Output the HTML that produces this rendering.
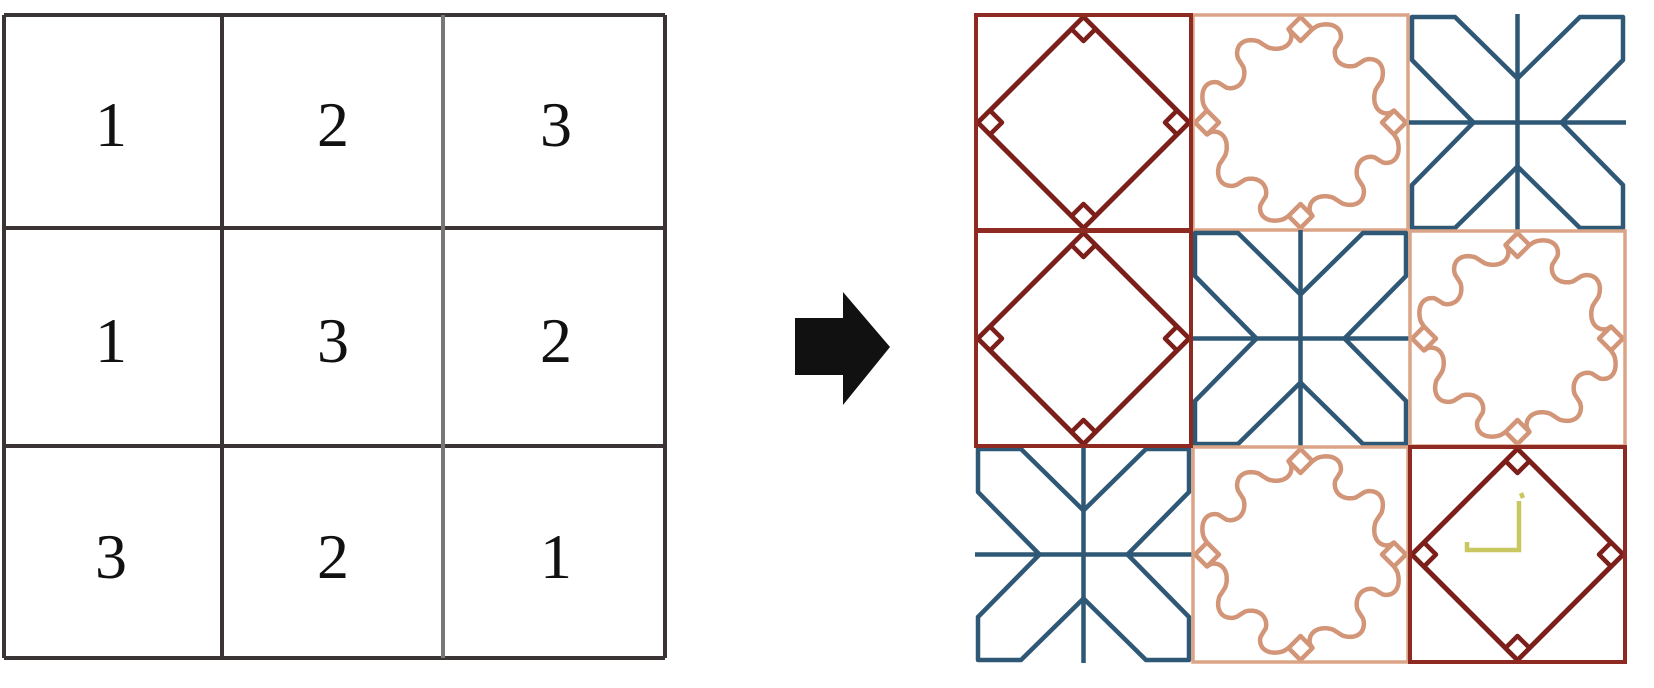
<!DOCTYPE html>
<html><head><meta charset="utf-8">
<style>
html,body{margin:0;padding:0;background:#fff;}
svg{display:block;}
</style></head>
<body>
<svg id="s" width="1654" height="688" viewBox="0 0 1654 688" xmlns="http://www.w3.org/2000/svg">
<rect width="1654" height="688" fill="#fff"/>
<g stroke="#3a3434" stroke-width="4" fill="none">
<line x1="4" y1="15" x2="665" y2="15"/>
<line x1="4" y1="228" x2="665" y2="228"/>
<line x1="4" y1="446" x2="665" y2="446"/>
<line x1="4" y1="658" x2="665" y2="658"/>
<line x1="4" y1="15" x2="4" y2="658"/>
<line x1="222" y1="15" x2="222" y2="658"/>
<line x1="443" y1="15" x2="443" y2="658" stroke="#777"/>
<line x1="665" y1="15" x2="665" y2="658"/>
</g>
<g font-family="'Liberation Serif',serif" font-size="64" fill="#111" text-anchor="middle">
<text x="111" y="146">1</text><text x="333" y="146">2</text><text x="556" y="146">3</text>
<text x="111" y="362">1</text><text x="333" y="362">3</text><text x="556" y="362">2</text>
<text x="111" y="578">3</text><text x="333" y="578">2</text><text x="556" y="578">1</text>
</g>
<path d="M795,318 L843,318 L843,292 L890,347 L843,405 L843,375 L795,375 Z" fill="#111"/>
<g id="tiles"></g>
</svg>
<script>
(function(){
var NS="http://www.w3.org/2000/svg";
var g=document.getElementById("tiles");
var xs=[975,1192,1409], ys=[14,230,446], S=217, c=S/2;
var layout=[["r","o","b"],["r","b","o"],["b","o","r"]];
function el(n,a,p){var e=document.createElementNS(NS,n);for(var k in a)e.setAttribute(k,a[k]);(p||g).appendChild(e);return e;}
function rings(p,col){
  var d=15,h=12;
  [[c,d],[S-d,c],[c,S-d],[d,c]].forEach(function(q){
    el("path",{d:"M"+q[0]+","+(q[1]-h)+" L"+(q[0]+h)+","+q[1]+" L"+q[0]+","+(q[1]+h)+" L"+(q[0]-h)+","+q[1]+" Z",fill:"#fff",stroke:col,"stroke-width":4.5,"stroke-linejoin":"round"},p);
  });
}
function red(p){
  var col="#7c1f1a";
  el("path",{d:"M"+c+",3 L"+(S-3)+","+c+" L"+c+","+(S-3)+" L3,"+c+" Z",fill:"none",stroke:col,"stroke-width":5},p);
  rings(p,col);
  el("rect",{x:1,y:1,width:S-2,height:S-2,fill:"none",stroke:"#8e2a22","stroke-width":4},p);
}
function orange(p){
  var col="#d29578";
  var d=15,h=12;
  var pts=[[c,d],[S-d,c],[c,S-d],[d,c]];
  var path="";
  for(var i=0;i<4;i++){
    var A=pts[i],B=pts[(i+1)%4];
    var ax=A[0]+Math.sign(B[0]-A[0])*h*(A[0]==c?1:0), ay=A[1]+Math.sign(B[1]-A[1])*h*(A[1]==c?1:0);
    var bx=B[0]+Math.sign(A[0]-B[0])*h*(B[0]==c?1:0), by=B[1]+Math.sign(A[1]-B[1])*h*(B[1]==c?1:0);
    var dx=bx-ax,dy=by-ay,L=Math.sqrt(dx*dx+dy*dy);
    var mx=(ax+bx)/2-c,my=(ay+by)/2-c;var nx=-dy/L,ny=dx/L;if(nx*mx+ny*my<0){nx=-nx;ny=-ny;}
    var N=100;
    for(var k=0;k<=N;k++){
      var t=k/N,s=Math.sin(2*Math.PI*2*t);
      var w=Math.sign(s)*Math.pow(Math.abs(s),0.5)*14+Math.sin(Math.PI*t)*10;
      var x=ax+dx*t+nx*w,y=ay+dy*t+ny*w;
      path+=(k==0?"M":"L")+x.toFixed(1)+","+y.toFixed(1)+" ";
    }
  }
  el("path",{d:path,fill:"none",stroke:col,"stroke-width":4.5,"stroke-linejoin":"round"},p);
  rings(p,col);
  el("rect",{x:1,y:1,width:S-2,height:S-2,fill:"none",stroke:"#dba486","stroke-width":3.5},p);
}
function blue(p){
  var col="#2f5876";
  el("line",{x1:0,y1:c,x2:S,y2:c,stroke:col,"stroke-width":4.5},p);
  el("line",{x1:c,y1:0,x2:c,y2:S,stroke:col,"stroke-width":4.5},p);
  var corner="M"+(c-44)+","+c+" L3,46 L3,3 L46,3 L"+c+","+(c-44);
  for(var r=0;r<4;r++){
    el("path",{d:corner,fill:"none",stroke:col,"stroke-width":4.5,"stroke-linejoin":"round",transform:"rotate("+(90*r)+" "+c+" "+c+")"},p);
  }
}
for(var i=0;i<3;i++)for(var j=0;j<3;j++){
  var p=el("g",{transform:"translate("+xs[j]+","+ys[i]+")"});
  var t=layout[i][j];
  if(t=="r")red(p);else if(t=="o")orange(p);else blue(p);
}
for(var i=0;i<3;i++)for(var j=0;j<3;j++){
  if(layout[i][j]=="r")el("rect",{x:xs[j]+1,y:ys[i]+1,width:S-2,height:S-2,fill:"none",stroke:"#8e2a22","stroke-width":4});
}
var q=el("g",{transform:"translate(1409,446)",fill:"none",stroke:"#c9c760","stroke-width":4.5});
el("path",{d:"M110,55 L110,104 L58,104 L58,96"},q);
el("path",{d:"M112,47 L114,52"},q);
})();
</script>
</body></html>
